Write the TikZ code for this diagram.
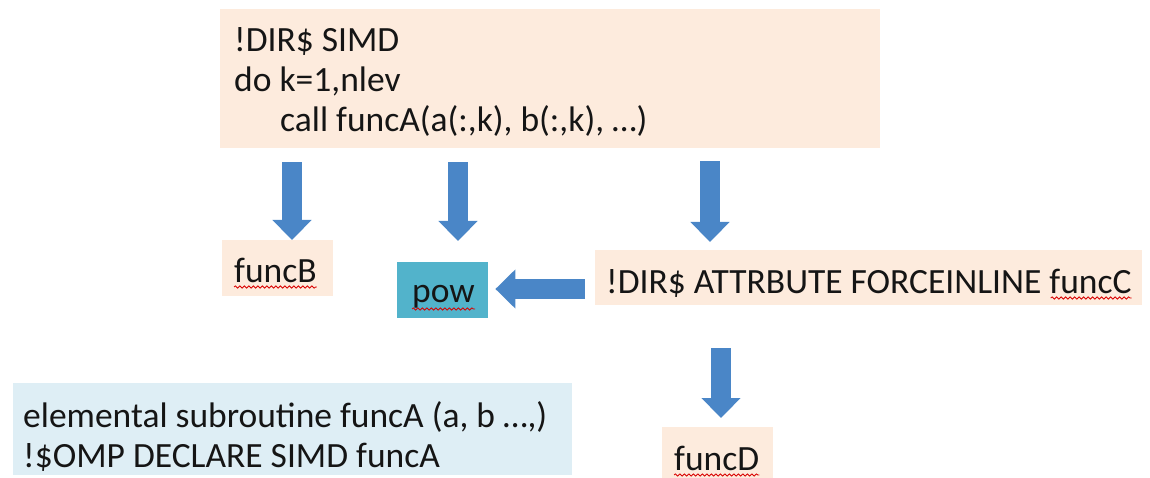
\documentclass[tikz,border=0pt]{standalone}
\usepackage{fontspec}
\setmainfont{Carlito}
\usetikzlibrary{arrows.meta,decorations.pathmorphing}
\definecolor{peach}{HTML}{FDEBDD}
\definecolor{teal}{HTML}{52B3CB}
\definecolor{paleblue}{HTML}{DEEEF5}
\definecolor{arrowblue}{HTML}{4A86C7}
\definecolor{ink}{HTML}{151515}
\tikzset{
  boxbase/.style={draw=none, inner sep=0pt, anchor=north west},
  peachbox/.style={boxbase, fill=peach},
  tealbox/.style={boxbase, fill=teal},
  bluebox/.style={boxbase, fill=paleblue},
  txt/.style={inner sep=0pt, anchor=base west, text=ink, font=\fontsize{35.5}{41}\selectfont},
  barrow/.style={draw=arrowblue, line width=20pt, -{Triangle[width=38pt,length=20pt]}},
  spell/.style={draw=red!85!black, line width=0.8pt, decorate,
    decoration={snake, amplitude=1.1pt, segment length=4.5pt}}
}
\begin{document}
\begin{tikzpicture}[x=1pt,y=-1pt]
\useasboundingbox (0,0) rectangle (1150,478);
% boxes
\node[peachbox, minimum width=660pt, minimum height=139pt] (top) at (220,9) {};
\node[peachbox, minimum width=111pt, minimum height=56pt] (funcB) at (222,240) {};
\node[tealbox, minimum width=91pt, minimum height=56pt] (pow) at (397,262) {};
\node[peachbox, minimum width=547pt, minimum height=55pt] (funcC) at (595,250) {};
\node[peachbox, minimum width=111pt, minimum height=51pt] (funcD) at (662,427) {};
\node[bluebox, minimum width=559pt, minimum height=92pt] (decl) at (13,383) {};
% texts
\node[txt] (t1) at (234,52) {!DIR\$ SIMD};
\node[txt] (t2) at (234,92) {do k=1,nlev};
\node[txt] (t3) at (280,132) {call funcA(a(:,k), b(:,k), …)};
\node[txt] (tB) at (234,282) {funcB};
\node[txt] (tP) at (412,302) {pow};
\node[txt] (tC) at (606,293) {!DIR\$ ATTRBUTE FORCEINLINE funcC};
\node[txt] (tD) at (674,470) {funcD};
\node[txt] (u1) at (23,427) {elemental subroutine funcA (a, b …,)};
\node[txt] (u2) at (23,467) {!\$OMP DECLARE SIMD funcA};
% spell-check underlines
\draw[spell] ([yshift=-5pt]tB.base west) -- ([yshift=-5pt]tB.base east);
\draw[spell] ([yshift=-7pt]tP.base west) -- ([yshift=-7pt]tP.base east);
\draw[spell] ([xshift=-81pt,yshift=-5pt]tC.base east) -- ([yshift=-5pt]tC.base east);
\draw[spell] ([yshift=-5pt]tD.base west) -- ([yshift=-5pt]tD.base east);
% arrows
\coordinate (c1) at (292,0);
\coordinate (c2) at (458,0);
\coordinate (c3) at (710,0);
\coordinate (c4) at (721,0);
\coordinate (r1) at (0,289);
\draw[barrow, shorten <=14pt] (top.south -| c1) -- (funcB.north -| c1);
\draw[barrow, shorten <=14pt, shorten >=21pt] (top.south -| c2) -- (pow.north -| c2);
\draw[barrow, shorten <=13pt, shorten >=8pt] (top.south -| c3) -- (funcC.north -| c3);
\draw[barrow, shorten <=10pt, shorten >=7pt] (funcC.west |- r1) -- (pow.east |- r1);
\draw[barrow, shorten <=43pt, shorten >=9pt] (funcC.south -| c4) -- (funcD.north -| c4);
\end{tikzpicture}
\end{document}
